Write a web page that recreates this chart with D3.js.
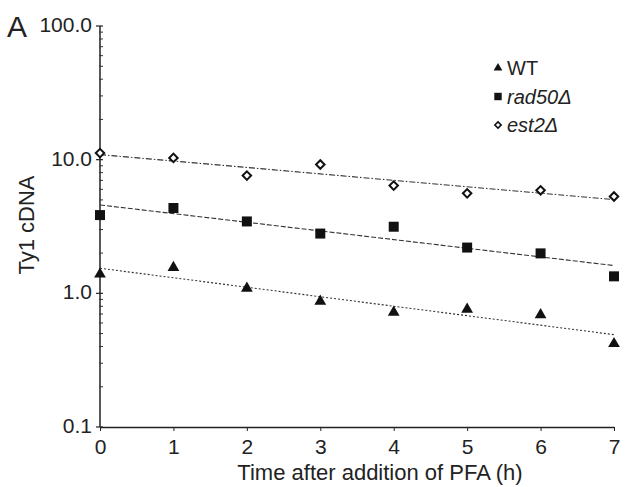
<!DOCTYPE html>
<html>
<head>
<meta charset="utf-8">
<script src="https://cdn.jsdelivr.net/npm/d3@7"></script>
<style>
  body { margin: 0; background: #fff; }
  svg text { font-family: "Liberation Sans", Arial, sans-serif; fill: #222; }
</style>
</head>
<body>
<svg id="chart" width="630" height="487"></svg>
<script>
// data
var hours = [0, 1, 2, 3, 4, 5, 6, 7];
var wt    = [1.39, 1.56, 1.09, 0.87, 0.72, 0.76, 0.69, 0.42];
var rad50 = [3.85, 4.35, 3.45, 2.80, 3.15, 2.20, 1.99, 1.34];
var est2  = [11.2, 10.3, 7.6, 9.2, 6.4, 5.6, 5.9, 5.3];
var yTicks = [0.1, 1, 10, 100];

var svg = d3.select("#chart");
var x0 = 100, x1 = 614, yTop = 26, yBot = 427;

var x = d3.scaleLinear().domain([0, 7]).range([x0, x1]);
var y = d3.scaleLog().domain([0.1, 100]).range([yBot, yTop]);

// fit log-linear trend line for each series
function fit(vals) {
    var ly = vals.map(function(v) { return Math.log10(v); });
    var mx = d3.mean(hours), my = d3.mean(ly);
    var sxy = 0, sxx = 0;
    for (var i = 0; i < hours.length; i++) {
        sxy += (hours[i] - mx) * (ly[i] - my);
        sxx += (hours[i] - mx) * (hours[i] - mx);
    }
    var b = sxy / sxx, a = my - b * mx;
    return [0, 7].map(function(t) { return [t, Math.pow(10, a + b * t)]; });
}

var series = [
    { name: "WT", vals: wt, sym: d3.symbolTriangle, size: 60, rot: 0, fill: "#111", stroke: "none", dash: "2,2" },
    { name: "rad50Δ", vals: rad50, sym: d3.symbolSquare, size: 100, rot: 0, fill: "#111", stroke: "none", dash: "5,2" },
    { name: "est2Δ", vals: est2, sym: d3.symbolSquare, size: 36, rot: 45, fill: "#fff", stroke: "#111", dash: "6,2,1.5,2" }
];

// y axis
svg.append("line")
    .attr("x1", x0).attr("x2", x0).attr("y1", yTop).attr("y2", yBot)
    .attr("stroke", "#222").attr("stroke-width", 1.5);

var minor = [];
for (var e = -1; e < 2; e++) {
    for (var m = 2; m < 10; m++) minor.push(m * Math.pow(10, e));
}
svg.selectAll(".minor").data(minor).enter().append("line")
    .attr("class", "minor")
    .attr("x1", x0 - 1).attr("x2", x0 + 3)
    .attr("y1", function(d) { return y(d); }).attr("y2", function(d) { return y(d); })
    .attr("stroke", "#333").attr("stroke-width", 1);

svg.selectAll(".ytick").data(yTicks).enter().append("line")
    .attr("x1", x0 - 4).attr("x2", x0 + 3)
    .attr("y1", function(d) { return y(d); }).attr("y2", function(d) { return y(d); })
    .attr("stroke", "#222").attr("stroke-width", 1.2);

svg.selectAll(".ylab").data(yTicks).enter().append("text")
    .attr("x", x0 - 8)
    .attr("y", function(d) { return y(d) + 6; })
    .attr("text-anchor", "end")
    .style("font-size", "21px")
    .text(function(d) { return d3.format(".1f")(d); });

// x axis
svg.append("g")
    .attr("transform", "translate(0," + yBot + ")")
    .call(d3.axisBottom(x).ticks(7).tickSize(4).tickSizeOuter(0).tickFormat(d3.format("d")))
    .call(function(g) {
        g.select(".domain").attr("stroke", "#222").attr("stroke-width", 1.5);
        g.selectAll(".tick line").attr("stroke", "#222");
        g.selectAll(".tick text")
            .attr("y", 12)
            .style("font-size", "21px")
            .style("font-family", "Liberation Sans, Arial, sans-serif")
            .attr("fill", "#222");
    });

svg.append("text")
    .attr("x", 380).attr("y", 480)
    .attr("text-anchor", "middle")
    .style("font-size", "22px")
    .text("Time after addition of PFA (h)");

svg.append("text")
    .attr("transform", "translate(34,225) rotate(-90)")
    .attr("text-anchor", "middle")
    .style("font-size", "22px")
    .text("Ty1 cDNA");

svg.append("text")
    .attr("x", 7).attr("y", 37)
    .style("font-size", "30px")
    .text("A");

// trend lines
var line = d3.line()
    .x(function(d) { return x(d[0]); })
    .y(function(d) { return y(d[1]); });

svg.selectAll(".trend").data(series).enter().append("path")
    .attr("class", "trend")
    .attr("d", function(s) { return line(fit(s.vals)); })
    .attr("fill", "none")
    .attr("stroke", "#333")
    .attr("stroke-width", 1.1)
    .attr("stroke-dasharray", function(s) { return s.dash; });

// markers
series.forEach(function(s) {
    svg.append("g").selectAll("path").data(s.vals).enter().append("path")
        .attr("d", d3.symbol().type(s.sym).size(s.size))
        .attr("transform", function(d, i) {
            return "translate(" + x(hours[i]) + "," + y(d) + ") rotate(" + s.rot + ")";
        })
        .attr("fill", s.fill)
        .attr("stroke", s.stroke)
        .attr("stroke-width", 2);
});

// legend
var leg = svg.append("g").attr("transform", "translate(498,68)");
leg.selectAll("g").data(series).enter().append("g")
    .attr("transform", function(d, i) { return "translate(0," + (i * 28.5) + ")"; })
    .each(function(s) {
        var g = d3.select(this);
        g.append("path")
            .attr("d", d3.symbol().type(s.sym).size(s.size * 0.55))
            .attr("transform", "rotate(" + s.rot + ")")
            .attr("fill", s.fill).attr("stroke", s.stroke).attr("stroke-width", 1.6);
        g.append("text")
            .attr("x", 9).attr("y", 7)
            .style("font-size", "20px")
            .style("font-style", s.name === "WT" ? "normal" : "italic")
            .text(s.name);
    });
</script>
</body>
</html>
